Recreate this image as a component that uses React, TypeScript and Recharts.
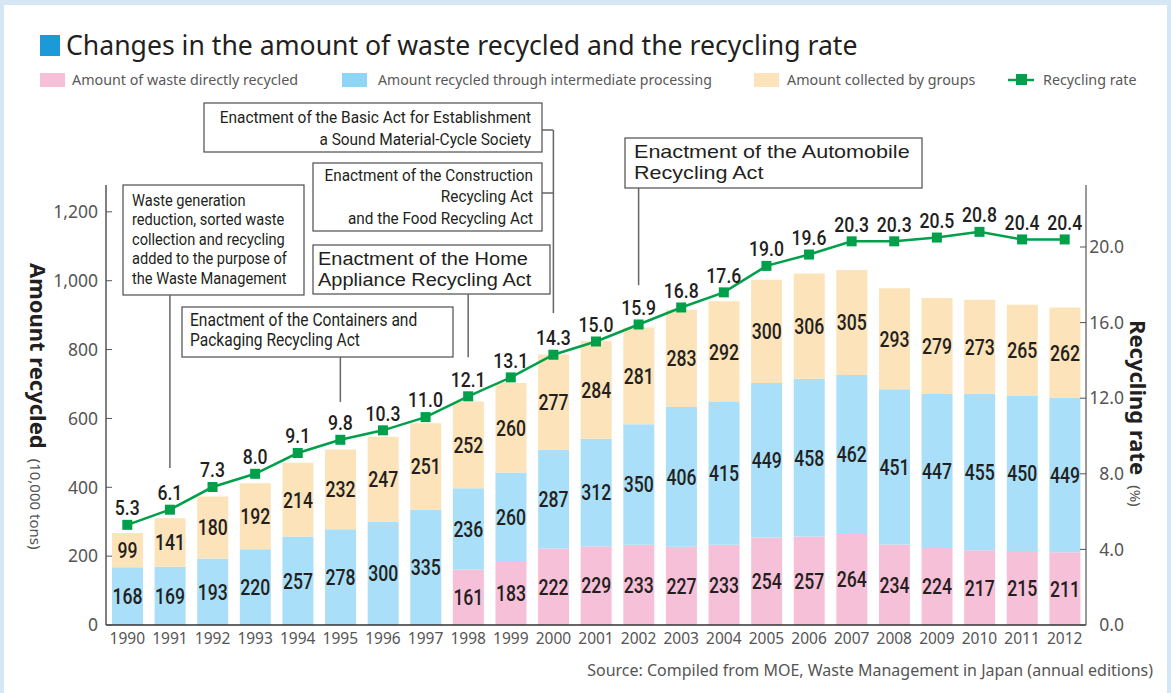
import React from 'react';
import { ComposedChart, Bar, Line, XAxis, YAxis, LabelList, ReferenceLine } from 'recharts';

const years = ['1990','1991','1992','1993','1994','1995','1996','1997','1998','1999','2000','2001','2002','2003','2004','2005','2006','2007','2008','2009','2010','2011','2012'];
const directRecycled = [0,0,0,0,0,0,0,0,161,183,222,229,233,227,233,254,257,264,234,224,217,215,211];
const intermediateProcessing = [168,169,193,220,257,278,300,335,236,260,287,312,350,406,415,449,458,462,451,447,455,450,449];
const collectedByGroups = [99,141,180,192,214,232,247,251,252,260,277,284,281,283,292,300,306,305,293,279,273,265,262];
const recyclingRate = [5.3,6.1,7.3,8.0,9.1,9.8,10.3,11.0,12.1,13.1,14.3,15.0,15.9,16.8,17.6,19.0,19.6,20.3,20.3,20.5,20.8,20.4,20.4];
const leftTicks = [0,200,400,600,800,1000,1200];
const rightTicks = [0,4,8,12,16,20];

const data = years.map((year, i) => ({
  year,
  direct: directRecycled[i],
  inter: intermediateProcessing[i],
  groups: collectedByGroups[i],
  rate: recyclingRate[i],
}));

const SANS = "'Noto Sans', 'Open Sans', sans-serif";
const COND = "Roboto, 'Noto Sans', sans-serif";
const LIB = "'Liberation Sans', Arial, sans-serif";
const PINK = '#f6c1d8';
const BLUE = '#a9dff8';
const ORANGE = '#fde3b9';
const GREEN = '#00a04a';
const TXT = '#231f20';

const CText = (p: any) => {
  const { x, y, s = 1, anchor = 'start', size, weight = 400, fill = TXT, dy, children } = p;
  return (
    <text transform={`translate(${x},${y}) scale(${s},1)`} dy={dy} textAnchor={anchor} fontSize={size} fontWeight={weight} fill={fill} fontFamily={COND}>
      {children}
    </text>
  );
};

// multi-line annotation text as one text element with tspans
const Lines = (p: any) => {
  const { x, y, s = 1, anchor = 'start', size, lh, lines, family = COND } = p;
  return (
    <text transform={`translate(${x},${y}) scale(${s},1)`} textAnchor={anchor} fontSize={size} fill={TXT} fontFamily={family}>
      {lines.map((t: string, i: number) => (
        <tspan key={i} x={0} dy={i === 0 ? 0 : lh}>{t}</tspan>
      ))}
    </text>
  );
};

const SegLabel = (props: any) => {
  const { x, y, width, height, value } = props;
  if (!value) return null;
  return (
    <CText x={x + width / 2} y={y + height / 2} dy="0.36em" anchor="middle" size={22} s={0.8} weight={500}>
      {value}
    </CText>
  );
};

const RateLabel = (props: any) => {
  const { x, y, value } = props;
  return (
    <CText x={x} y={y - 17} dy="0.36em" anchor="middle" size={20.5} s={0.86} weight={500}>
      {Number(value).toFixed(1)}
    </CText>
  );
};

const SquareDot = (props: any) => {
  const { cx, cy } = props;
  if (cx == null || cy == null) return null;
  return <rect x={cx - 5} y={cy - 5} width={10} height={10} fill={GREEN} />;
};

const LeftTick = (props: any) => {
  const { x, y, payload } = props;
  return (
    <g>
      <line x1={x + 8} x2={x + 14} y1={y} y2={y} stroke="#555" strokeWidth={1} />
      <text x={x} y={y} dy="0.36em" textAnchor="end" fontSize={17.5} fill="#555" fontFamily={SANS}>
        {Number(payload.value).toLocaleString('en-US')}
      </text>
    </g>
  );
};

const RightTick = (props: any) => {
  const { x, y, payload } = props;
  return (
    <g>
      <line x1={x - 14} x2={x - 8} y1={y} y2={y} stroke="#555" strokeWidth={1} />
      <text x={x + 30} y={y} dy="0.36em" textAnchor="end" fontSize={17.5} fill="#555" fontFamily={SANS}>
        {Number(payload.value).toFixed(1)}
      </text>
    </g>
  );
};

const XTick = (props: any) => {
  const { x, y, payload } = props;
  return (
    <text x={x} y={y + 5} dy="0.36em" textAnchor="middle" fontSize={15.5} fill="#555" fontFamily={SANS}>
      {payload.value}
    </text>
  );
};

const box = { fill: '#fff', stroke: '#4d4d4d', strokeWidth: 1.2 };

export default function App() {
  return (
    <div style={{ position: 'absolute', left: 0, top: 0, width: 1171, height: 693, background: '#d5e6f5', overflow: 'hidden' }}>
      <div style={{ position: 'absolute', left: 4, top: 5, width: 1163, height: 688, background: '#fff' }} />
      <div style={{ position: 'absolute', left: 0, top: 0 }}>
        <ComposedChart width={1171} height={693} data={data} margin={{ top: 185, right: 30, bottom: 38, left: 46 }} barSize={31}>
          <XAxis dataKey="year" interval={0} tickLine={false} axisLine={{ stroke: '#333', strokeWidth: 1.5 }} tick={<XTick />} height={30} />
          <YAxis yAxisId="left" width={60} domain={[0, 1278]} ticks={leftTicks} tick={<LeftTick />} tickLine={false} axisLine={{ stroke: '#555', strokeWidth: 1.5 }} allowDataOverflow />
          <YAxis yAxisId="right" orientation="right" width={55} domain={[0, 23.28]} ticks={rightTicks} tick={<RightTick />} tickLine={false} axisLine={{ stroke: '#777', strokeWidth: 1.5 }} allowDataOverflow />
          <Bar yAxisId="left" dataKey="direct" stackId="a" fill={PINK} isAnimationActive={false}>
            <LabelList dataKey="direct" content={<SegLabel />} />
          </Bar>
          <Bar yAxisId="left" dataKey="inter" stackId="a" fill={BLUE} isAnimationActive={false}>
            <LabelList dataKey="inter" content={<SegLabel />} />
          </Bar>
          <Bar yAxisId="left" dataKey="groups" stackId="a" fill={ORANGE} isAnimationActive={false}>
            <LabelList dataKey="groups" content={<SegLabel />} />
          </Bar>
          <ReferenceLine yAxisId="left" ifOverflow="visible" segment={[{ x: '1991', y: 958 }, { x: '1991', y: 456 }]} stroke="#666" strokeWidth={1.5} />
          <ReferenceLine yAxisId="left" ifOverflow="visible" segment={[{ x: '1995', y: 778 }, { x: '1995', y: 648 }]} stroke="#666" strokeWidth={1.5} />
          <ReferenceLine yAxisId="left" ifOverflow="visible" segment={[{ x: '1998', y: 961 }, { x: '1998', y: 778 }]} stroke="#666" strokeWidth={1.5} />
          <ReferenceLine yAxisId="left" ifOverflow="visible" segment={[{ x: '2000', y: 1438 }, { x: '2000', y: 906 }]} stroke="#666" strokeWidth={1.5} />
          <ReferenceLine yAxisId="left" ifOverflow="visible" segment={[{ x: '2002', y: 1269 }, { x: '2002', y: 987 }]} stroke="#666" strokeWidth={1.5} />
          <Line yAxisId="right" dataKey="rate" stroke={GREEN} strokeWidth={2.5} dot={<SquareDot />} activeDot={false} isAnimationActive={false}>
            <LabelList dataKey="rate" content={<RateLabel />} />
          </Line>
        </ComposedChart>
      </div>
      <svg width={1171} height={693} style={{ position: 'absolute', left: 0, top: 0, pointerEvents: 'none' }}>
        {/* Title */}
        <rect x={40} y={35} width={20} height={21} fill="#1a9ad6" />
        <text x={66} y={55} fontSize={26.6} fill={TXT} fontFamily={SANS}>Changes in the amount of waste recycled and the recycling rate</text>
        {/* Legend */}
        <g fontSize={14.3} fill="#595757" fontFamily={SANS}>
          <rect x={40} y={73} width={25} height={14} fill={PINK} />
          <text x={72} y={85}>Amount of waste directly recycled</text>
          <rect x={342} y={73} width={25} height={14} fill="#8fd6f6" />
          <text x={378} y={85} fontSize={14.1}>Amount recycled through intermediate processing</text>
          <rect x={754} y={73} width={25} height={14} fill={ORANGE} />
          <text x={787} y={85}>Amount collected by groups</text>
          <line x1={1008} x2={1034} y1={80} y2={80} stroke={GREEN} strokeWidth={2.5} />
          <rect x={1016} y={74} width={11} height={11} fill={GREEN} />
          <text x={1043} y={85}>Recycling rate</text>
        </g>
        {/* Axis titles */}
        <text transform="translate(30,263) rotate(90)" fontSize={22} fontWeight={700} fill={TXT} fontFamily={SANS}>
          Amount recycled
          <tspan dx={10} fontSize={15} fontWeight={400} fill="#555">(10,000 tons)</tspan>
        </text>
        <text transform="translate(1130,320) rotate(90)" fontSize={22} fontWeight={700} fill={TXT} fontFamily={SANS}>
          Recycling rate
          <tspan dx={10} fontSize={15} fontWeight={400} fill="#555">(%)</tspan>
        </text>
        {/* Annotation boxes */}
        <rect x={123} y={185} width={181} height={110} {...box} />
        <Lines x={132} y={206} size={16.5} s={0.886} lh={19.5}
          lines={['Waste generation', 'reduction, sorted waste', 'collection and recycling', 'added to the purpose of', 'the Waste Management']} />

        <rect x={182} y={307} width={271} height={50} {...box} />
        <Lines x={190} y={326} size={17.5} s={0.89} lh={20}
          lines={['Enactment of the Containers and', 'Packaging Recycling Act']} />

        <rect x={313} y={245} width={237} height={49} {...box} />
        <Lines x={318} y={265} size={18.6} s={1.075} lh={21} family={LIB}
          lines={['Enactment of the Home', 'Appliance Recycling Act']} />

        <rect x={313} y={163} width={229} height={68} {...box} />
        <Lines x={533} y={181} size={16.5} s={0.93} lh={21.5} anchor="end"
          lines={['Enactment of the Construction', 'Recycling Act', 'and the Food Recycling Act']} />

        <rect x={204} y={103} width={338} height={49} {...box} />
        <Lines x={531} y={123} size={16.5} s={0.935} lh={22} anchor="end"
          lines={['Enactment of the Basic Act for Establishment', 'a Sound Material-Cycle Society']} />

        <line x1={542} x2={553} y1={130} y2={130} stroke="#666" strokeWidth={1.5} />
        <line x1={542} x2={553} y1={193} y2={193} stroke="#666" strokeWidth={1.5} />

        <rect x={625} y={138} width={297} height={50} {...box} />
        <Lines x={634} y={158} size={18.6} s={1.16} lh={21} family={LIB}
          lines={['Enactment of the Automobile', 'Recycling Act']} />
        {/* Source */}
        <text x={1153} y={676} textAnchor="end" fontSize={16} fill="#555" fontFamily={SANS}>Source: Compiled from MOE, Waste Management in Japan (annual editions)</text>
      </svg>
    </div>
  );
}
